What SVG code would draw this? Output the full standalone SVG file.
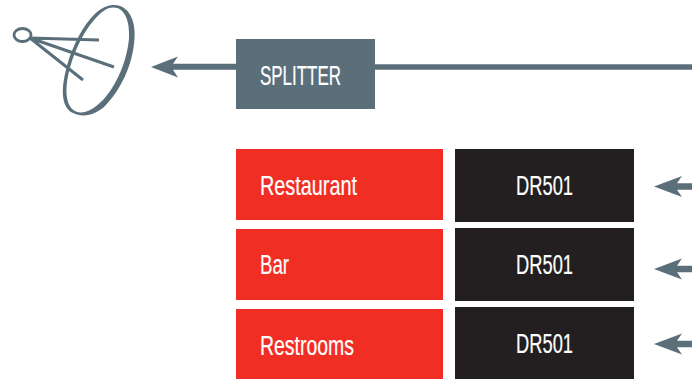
<svg xmlns="http://www.w3.org/2000/svg" width="692" height="379" viewBox="0 0 692 379">
<style>
text{font-family:"Liberation Sans Narrow","Liberation Sans",sans-serif;font-size:27px;fill:#fff;stroke:#fff;stroke-width:.2px}
.s{fill:#5b6f7b}.r{fill:#f12e24}.k{fill:#231f20}
.l{stroke:#5b6f7b;fill:none}
</style>
<defs><path id="h" class="s" d="M0 0L28 -10.500L23 -3.200H38V3.200H23L28 10.500Z"/></defs>
<g id="connectors">
<path class="l" stroke-width="5.500" d="M375 67H692"/>
<path class="s" d="M151 67L178 56.500L173 63.800H236V69.800H173L178 77.500Z"/>
<use href="#h" x="654" y="186.500"/>
<use href="#h" x="654" y="269"/>
<use href="#h" x="654" y="344"/>
</g>
<g id="dish">
<path class="s" fill-rule="evenodd" d="M113 5C128 4 136 20 134.500 38C133 66 120 90 106 105C96 115 83 118 73 113C62 108 61 92 65 74C69 54 79 32 91 18C98 10 106 5 113 5ZM113 7.500C107 7.500 101 12 94 20C82 34 72 56 68 76C65 92 66 107 76 111.500C84 115 94 109 103 100C116 86 127 62 129 38C130 20 124 7 113 7.500Z"/>
<ellipse class="l" stroke-width="2.800" cx="22.500" cy="35" rx="8.500" ry="6.500"/>
<path class="l" stroke-width="3" d="M30 38L99 40M30 38L114 67M30 38L83 80"/>
</g>
<g id="splitter"><rect class="s" x="236" y="39" width="139" height="70"/><text x="260" y="85" textLength="81" lengthAdjust="spacingAndGlyphs">SPLITTER</text></g>
<g id="restaurant"><rect class="r" x="236" y="149" width="207" height="71"/><text x="260" y="195" textLength="97" lengthAdjust="spacingAndGlyphs">Restaurant</text></g>
<g id="bar"><rect class="r" x="236" y="229" width="207" height="71"/><text x="260" y="274" textLength="29" lengthAdjust="spacingAndGlyphs">Bar</text></g>
<g id="restrooms"><rect class="r" x="236" y="309" width="207" height="70"/><text x="260" y="355" textLength="94" lengthAdjust="spacingAndGlyphs">Restrooms</text></g>
<g id="dr1"><rect class="k" x="455" y="149" width="179" height="73"/><text x="516" y="195" textLength="57" lengthAdjust="spacingAndGlyphs">DR501</text></g>
<g id="dr2"><rect class="k" x="455" y="228" width="179" height="73"/><text x="516" y="274" textLength="57" lengthAdjust="spacingAndGlyphs">DR501</text></g>
<g id="dr3"><rect class="k" x="455" y="307" width="179" height="72"/><text x="516" y="353" textLength="57" lengthAdjust="spacingAndGlyphs">DR501</text></g>
</svg>
